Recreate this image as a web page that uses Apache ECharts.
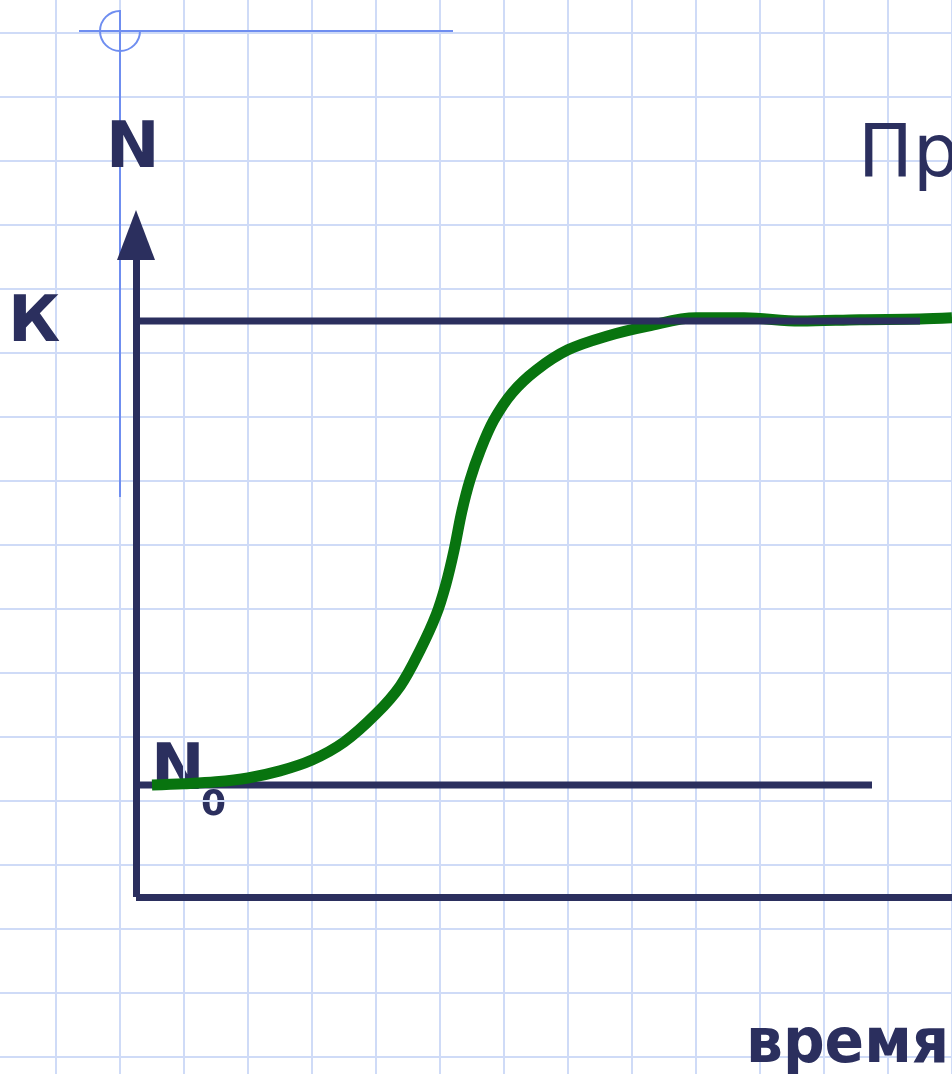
<!DOCTYPE html>
<html>
<head>
<meta charset="utf-8">
<script src="https://cdn.jsdelivr.net/npm/echarts@6/dist/echarts.min.js"></script>
<style>
  html, body { margin: 0; padding: 0; background: #ffffff; }
  #chart { width: 952px; height: 1074px; }
</style>
</head>
<body>
<div id="chart"></div>
<script>
// Logistic population growth: N rises from N0 and levels off at carrying capacity K.
const curveTime = [0.25, 0.75, 1.25, 1.75, 2.25, 2.75, 3.25, 3.75, 4.13, 4.44, 4.69, 4.84, 4.97, 5.09, 5.22, 5.38, 5.59, 5.88, 6.25, 6.75, 7.38, 8.00, 8.75, 9.50, 10.38, 11.31, 12.25, 12.75];
const curveN    = [1.75, 1.77, 1.80, 1.86, 1.97, 2.14, 2.42, 2.86, 3.30, 3.86, 4.41, 4.88, 5.42, 6.02, 6.52, 6.98, 7.45, 7.88, 8.23, 8.55, 8.77, 8.92, 9.05, 9.05, 9.00, 9.02, 9.03, 9.05];

const K = 9;          // carrying capacity
const N0 = 1.75;      // initial population
const kLineSpan = [0, 12.25];
const n0LineSpan = [0, 11.5];

const timeMax = 12.75;
const nMax = 10.34375;

const labels = {
  yName: 'N',
  k: 'К',
  n0Main: 'N',
  n0Sub: '0',
  xName: 'время',
  heading: 'Пр'
};

const NAVY = '#2b2f5e';
const GREEN = '#08740f';
const PAPER_LINE = '#cfdbf7';
const GUIDE_BLUE = '#6f8ef0';
const FONT = '"DejaVu Sans", Verdana, sans-serif';

const chart = echarts.init(document.getElementById('chart'), null, { renderer: 'canvas' });

const curveData = curveTime.map((t, i) => [t, curveN[i]]);

const option = {
  animation: false,
  backgroundColor: '#ffffff',
  grid: [
    { // plot area
      left: 136, top: 235, width: 816, height: 662,
      containLabel: false, outerBoundsMode: 'none'
    },
    { // squared paper behind everything
      left: -8, top: -31, width: 960, height: 1152,
      containLabel: false, outerBoundsMode: 'none'
    }
  ],
  xAxis: [
    {
      gridIndex: 0, type: 'value', min: 0, max: timeMax, z: 3,
      axisLine: { show: true, onZero: false, lineStyle: { color: NAVY, width: 7, cap: 'butt' } },
      axisTick: { show: false }, axisLabel: { show: false }, splitLine: { show: false }
    },
    {
      gridIndex: 1, type: 'value', min: 0, max: 15, interval: 1, z: 0,
      axisLine: { show: false }, axisTick: { show: false }, axisLabel: { show: false },
      splitLine: { show: true, lineStyle: { color: PAPER_LINE, width: 2 } }
    }
  ],
  yAxis: [
    {
      gridIndex: 0, type: 'value', min: 0, max: nMax, z: 3,
      axisLine: {
        show: true, onZero: false,
        symbol: ['none', 'triangle'], symbolSize: [38, 50],
        lineStyle: { color: NAVY, width: 7, cap: 'butt' }
      },
      axisTick: { show: false }, axisLabel: { show: false }, splitLine: { show: false }
    },
    {
      gridIndex: 1, type: 'value', min: 0, max: 18, interval: 1, z: 0,
      axisLine: { show: false }, axisTick: { show: false }, axisLabel: { show: false },
      splitLine: { show: true, lineStyle: { color: PAPER_LINE, width: 2 } }
    }
  ],
  series: [
    {
      name: 'N0', type: 'line', xAxisIndex: 0, yAxisIndex: 0, z: 1,
      data: n0LineSpan.map(t => [t, N0]),
      showSymbol: false, silent: true,
      lineStyle: { color: NAVY, width: 7, cap: 'butt' }
    },
    {
      name: 'N(t)', type: 'line', xAxisIndex: 0, yAxisIndex: 0, z: 2,
      data: curveData,
      smooth: 0.35,
      showSymbol: false, silent: true,
      lineStyle: { color: GREEN, width: 11, cap: 'butt', join: 'round' }
    },
    {
      name: 'K', type: 'line', xAxisIndex: 0, yAxisIndex: 0, z: 3,
      data: kLineSpan.map(t => [t, K]),
      showSymbol: false, silent: true,
      lineStyle: { color: NAVY, width: 7, cap: 'butt' }
    }
  ],
  graphic: {
    elements: [
      // guide crosshair in the upper-left corner
      { type: 'line', z: 1, silent: true,
        shape: { x1: 79, y1: 31, x2: 453, y2: 31 },
        style: { stroke: GUIDE_BLUE, lineWidth: 2 } },
      { type: 'line', z: 1, silent: true,
        shape: { x1: 120, y1: 10, x2: 120, y2: 497 },
        style: { stroke: GUIDE_BLUE, lineWidth: 2 } },
      { type: 'arc', z: 1, silent: true,
        shape: { cx: 120, cy: 31, r: 20, startAngle: 0, endAngle: Math.PI * 1.5, clockwise: true },
        style: { stroke: GUIDE_BLUE, lineWidth: 2, fill: null } },
      // text
      { type: 'text', z: 5, silent: true, x: 106, y: 150,
        style: { text: labels.yName, font: 'bold 64px ' + FONT, fill: NAVY, align: 'left', verticalAlign: 'middle' } },
      { type: 'text', z: 5, silent: true, x: 8, y: 324,
        style: { text: labels.k, font: 'bold 64px ' + FONT, fill: NAVY, align: 'left', verticalAlign: 'middle' } },
      { type: 'text', z: 0, silent: true, x: 151, y: 772,
        style: { text: labels.n0Main, font: 'bold 64px ' + FONT, fill: NAVY, align: 'left', verticalAlign: 'middle' } },
      { type: 'text', z: 0, silent: true, x: 201, y: 806,
        style: { text: labels.n0Sub, font: 'bold 36px ' + FONT, fill: NAVY, align: 'left', verticalAlign: 'middle' } },
      { type: 'text', z: 5, silent: true, x: 746, y: 1046, scaleX: 0.94,
        style: { text: labels.xName, font: 'bold 62px ' + FONT, fill: NAVY, align: 'left', verticalAlign: 'middle' } },
      { type: 'text', z: 5, silent: true, x: 858, y: 157,
        style: { text: labels.heading, font: '73px ' + FONT, fill: NAVY, align: 'left', verticalAlign: 'middle' } }
    ]
  }
};

chart.setOption(option);
</script>
</body>
</html>
